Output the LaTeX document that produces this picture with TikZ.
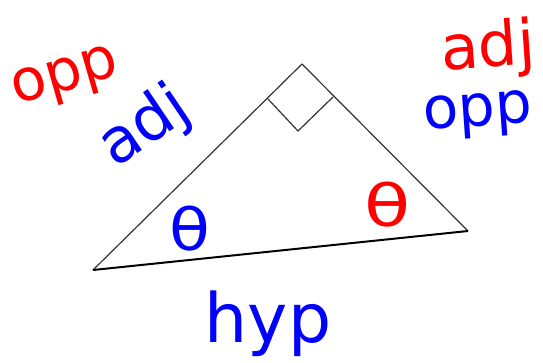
\documentclass[tikz,border=0pt]{standalone}
\usepackage{fontspec}
\setmainfont{DejaVu Sans}
\usepackage{xcolor}
\usepackage{tikz}
\usetikzlibrary{calc}
\definecolor{PenR}{HTML}{FF0000}
\definecolor{PenB}{HTML}{0000FF}
\definecolor{Lead}{HTML}{333333}

\tikzset{
  scrawl/.style={inner sep=0pt,font=\fontsize{58}{58}\selectfont},
  edge/.style={Lead,line width=1.2pt,line join=round}
}

\begin{document}
\begin{tikzpicture}[x=1pt,y=-1pt]
\useasboundingbox (0,0) rectangle (543,362);
\coordinate (L) at (93,270);
\coordinate (T) at (302,64);
\coordinate (R) at (468,231);
\coordinate (s1) at (268,99);
\coordinate (s2) at (298,131);
\coordinate (s3) at (333,97);
\draw[edge] (L) -- (T) -- (R);
\draw[edge,line width=2pt,black] (R) -- (L);
\draw[edge] (s1) -- (s2) -- (s3);
% left acute angle
\node[scrawl,PenR,rotate=16] (oppL) at (66,80) {opp};
\node[scrawl,PenB,rotate=34,font=\fontsize{62}{62}\selectfont] (adjL) at (145,128) {adj};
\node[scrawl,PenB,xscale=1.15] (thL) at (190,229) {θ};
% right acute angle
\node[scrawl,PenR,rotate=4,font=\fontsize{62}{62}\selectfont] (adjR) at (488,50) {adj};
\node[scrawl,PenB,rotate=4] (oppR) at (478,116) {opp};
\node[scrawl,PenR,xscale=1.3] (thR) at (388,205) {θ};
% hypotenuse
\node[scrawl,PenB,font=\fontsize{68}{68}\selectfont] (hyp) at (268,324) {hyp};
\end{tikzpicture}
\end{document}
